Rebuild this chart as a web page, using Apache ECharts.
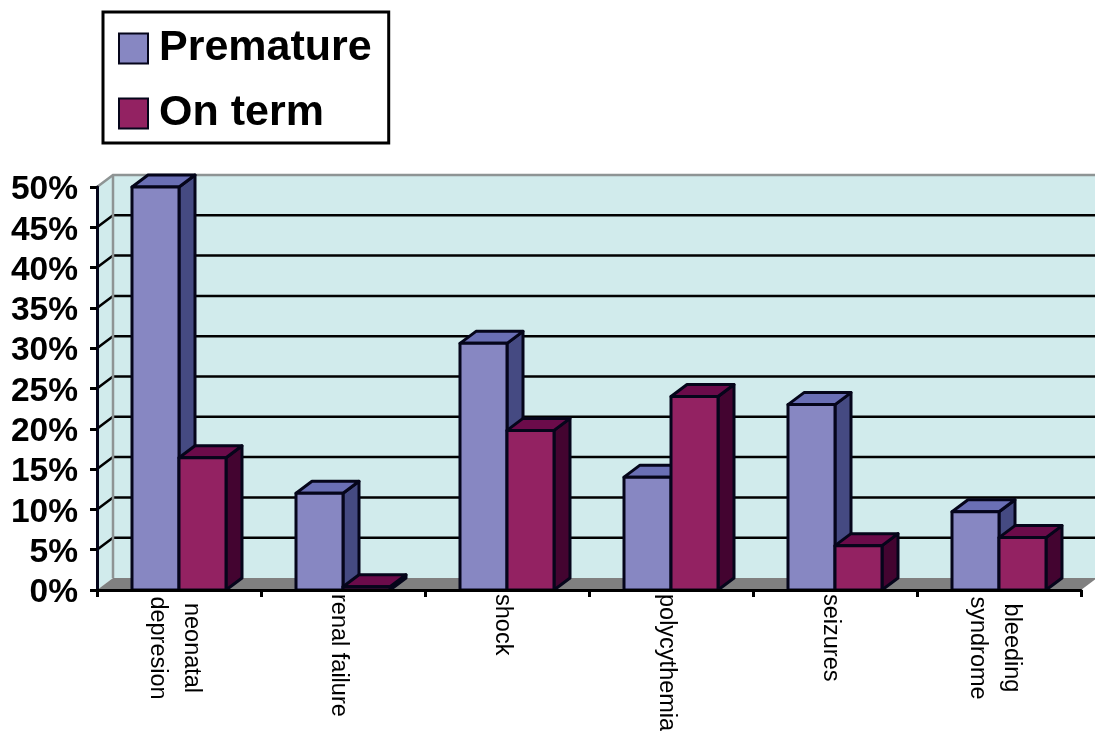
<!DOCTYPE html>
<html>
<head>
<meta charset="utf-8">
<style>html,body{margin:0;padding:0;background:#fff}#chart{width:1095px;height:731px}</style>
<script src="https://cdn.jsdelivr.net/npm/echarts@6/dist/echarts.min.js"></script>
</head>
<body>
<div id="chart"></div>
<script>
// Neonatal outcomes, share of cases by gestational group
const categories = ['neonatal\ndepresion', 'renal failure', 'shock', 'polycythemia', 'seizures', 'bleeding\nsyndrome'];
const premature = [50, 12, 30.6, 14, 23, 9.7];
const onTerm = [16.4, 0.4, 19.8, 24, 5.5, 6.5];
const yTicks = [5, 10, 15, 20, 25, 30, 35, 40, 45, 50];

// Oblique offset of the box depth, in pixels
const DEPTH_X = 16;
const DEPTH_Y = -12;
const BAR_SHARE = 0.2866;
const FONT = '"Liberation Sans", Arial, sans-serif';

const palette = {
  premature: { front: '#8787c2', top: '#6a6fb5', side: '#454a82' },
  onTerm: { front: '#932262', top: '#6b0b4a', side: '#430430' }
};

// Extruded column: front face, top face and right side face
function boxRenderer(colors, slot) {
  return function (params, api) {
    const band = api.size([1, 0])[0];
    const w = band * BAR_SHARE;
    const top = api.coord([api.value(0), api.value(1)]);
    const base = api.coord([api.value(0), 0]);
    const x0 = top[0] - w + slot * w;
    const x1 = x0 + w;
    const stroke = { stroke: '#05051a', lineWidth: 3, lineJoin: 'round' };
    const face = function (points, fill) {
      return { type: 'polygon', shape: { points: points }, style: Object.assign({ fill: fill }, stroke) };
    };
    return {
      type: 'group',
      children: [
        face([[x1, top[1]], [x1 + DEPTH_X, top[1] + DEPTH_Y], [x1 + DEPTH_X, base[1] + DEPTH_Y], [x1, base[1]]], colors.side),
        face([[x0, top[1]], [x0 + DEPTH_X, top[1] + DEPTH_Y], [x1 + DEPTH_X, top[1] + DEPTH_Y], [x1, top[1]]], colors.top),
        face([[x0, top[1]], [x1, top[1]], [x1, base[1]], [x0, base[1]]], colors.front)
      ]
    };
  };
}

// Back wall, side wall, floor and the gridlines that run across them
function renderWalls(params, api) {
  const cs = params.coordSys;
  const left = cs.x, right = cs.x + cs.width, bottom = cs.y + cs.height;
  const y50 = api.coord([0, 50])[1];
  const wallFill = '#d1ebec', edge = '#8e9494';
  const children = [
    { type: 'polygon', shape: { points: [[left, bottom], [left + DEPTH_X, bottom + DEPTH_Y], [left + DEPTH_X, y50 + DEPTH_Y], [left, y50]] }, style: { fill: wallFill } },
    { type: 'rect', shape: { x: left + DEPTH_X, y: y50 + DEPTH_Y, width: cs.width, height: bottom - y50 }, style: { fill: wallFill } },
    { type: 'polygon', shape: { points: [[left, bottom], [left + DEPTH_X, bottom + DEPTH_Y], [right + DEPTH_X, bottom + DEPTH_Y], [right, bottom]] }, style: { fill: '#808080' } }
  ];
  yTicks.forEach(function (t) {
    const y = api.coord([0, t])[1];
    children.push({
      type: 'polyline',
      shape: { points: [[left, y], [left + DEPTH_X, y + DEPTH_Y], [right + DEPTH_X, y + DEPTH_Y]] },
      style: { fill: null, stroke: t === 50 ? edge : '#000', lineWidth: 2.5 }
    });
  });
  children.push({
    type: 'line',
    shape: { x1: left + DEPTH_X, y1: y50 + DEPTH_Y, x2: left + DEPTH_X, y2: bottom + DEPTH_Y },
    style: { stroke: edge, lineWidth: 2.5 }
  });
  return { type: 'group', children: children };
}

const chart = echarts.init(document.getElementById('chart'), null, { renderer: 'canvas' });
chart.setOption({
  animation: false,
  backgroundColor: '#fff',
  textStyle: { fontFamily: FONT },
  legend: {
    orient: 'vertical',
    left: 103,
    top: 12,
    data: ['Premature', 'On term'],
    icon: 'rect',
    itemWidth: 29,
    itemHeight: 30,
    itemGap: 22,
    padding: [15, 17, 8, 15],
    borderColor: '#000',
    borderWidth: 3,
    backgroundColor: '#fff',
    selectedMode: false,
    textStyle: { fontFamily: FONT, fontSize: 43, fontWeight: 'bold', color: '#000', padding: [6, 0, 0, 6] }
  },
  grid: { left: 97, right: 14, top: 187, bottom: 141, outerBoundsMode: 'none', containLabel: false },
  xAxis: {
    type: 'category',
    data: categories,
    z: 5,
    axisLine: { lineStyle: { color: '#000', width: 3 } },
    axisTick: { show: true, alignWithLabel: false, length: 7, lineStyle: { color: '#000', width: 3 } },
    axisLabel: {
      interval: 0,
      rotate: -90,
      margin: 4,
      padding: [10, 0, 0, 0],
      color: '#000',
      fontFamily: FONT,
      fontSize: 23.5,
      formatter: function (value) {
        const lines = value.split('\n');
        return lines.length > 1 ? lines.map(function (l) { return '{block|' + l + '}'; }).join('\n') : value;
      },
      rich: { block: { width: 108, align: 'center', lineHeight: 34, fontSize: 23.5, fontFamily: FONT, color: '#000' } }
    }
  },
  yAxis: {
    type: 'value',
    min: 0,
    max: 50,
    interval: 5,
    z: 5,
    axisLine: { show: true, lineStyle: { color: '#05051a', width: 3 } },
    axisTick: { show: true, length: 7, lineStyle: { color: '#000', width: 3 } },
    splitLine: { show: false },
    axisLabel: {
      margin: 19,
      padding: [6, 0, 0, 0],
      formatter: function (value) { return '{pct|' + value + '%}'; },
      rich: { pct: { color: '#000', fontFamily: FONT, fontSize: 33.5, fontWeight: 'bold' } }
    }
  },
  series: [
    {
      type: 'custom',
      silent: true,
      clip: false,
      z: 1,
      renderItem: renderWalls,
      encode: { x: 0, y: 1 },
      data: [[0, 0]]
    },
    {
      name: 'Premature',
      type: 'custom',
      clip: false,
      z: 2,
      itemStyle: { color: palette.premature.front, borderColor: '#05051a', borderWidth: 2.5 },
      renderItem: boxRenderer(palette.premature, 0),
      encode: { x: 0, y: 1 },
      data: premature.map(function (v, i) { return [i, v]; })
    },
    {
      name: 'On term',
      type: 'custom',
      clip: false,
      z: 3,
      itemStyle: { color: palette.onTerm.front, borderColor: '#05051a', borderWidth: 2.5 },
      renderItem: boxRenderer(palette.onTerm, 1),
      encode: { x: 0, y: 1 },
      data: onTerm.map(function (v, i) { return [i, v]; })
    }
  ]
});
</script>
</body>
</html>
